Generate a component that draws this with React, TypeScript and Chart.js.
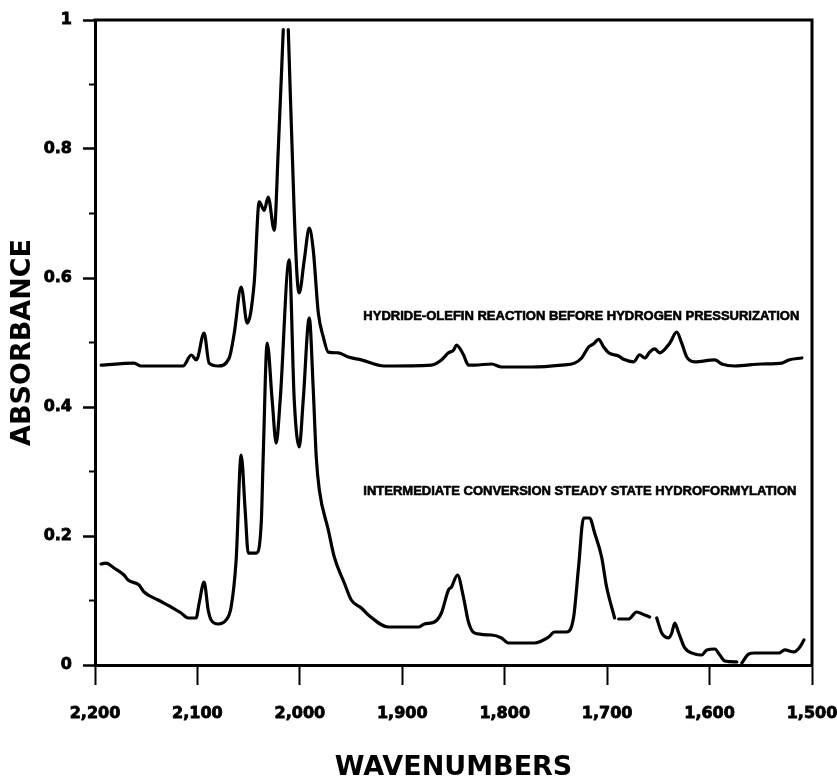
import React, { useEffect, useRef } from 'react';
import { Chart, registerables } from 'chart.js';

Chart.register(...registerables);

// ---- Data ----
// The main upper peak runs off scale: the plotter pen leaves a gap at its top (null).
const upperWavenumbers = [
  2194, 2161.9, 2155, 2114, 2106, 2101, 2093.5, 2088.6, 2079.8, 2069, 2064, 2057.3, 2051.4, 2044.6,
  2039.7, 2034.8, 2030.9, 2025, 2021.1, 2016.2, 2013.7, 2011.3, 2005.5, 2002.5, 2000.6, 1995.7, 1990.8,
  1986.9, 1982, 1977.1, 1972.2, 1962.5, 1952.7, 1940, 1917.5, 1871.6, 1861.8, 1854.9, 1850, 1847.1,
  1840.3, 1835.4, 1829.5, 1812.9, 1803.1, 1773.8, 1744.5, 1731.8, 1724.9, 1718.1, 1713.2, 1708.3,
  1703.4, 1698.5, 1688.8, 1683.9, 1674.1, 1668.2, 1663.3, 1658.5, 1653.6, 1648.7, 1638.9, 1632.1,
  1627.2, 1622.3, 1614.5, 1594.9, 1588.1, 1575.4, 1549, 1529.4, 1522.6, 1509.9,
];
const upperAbsorbance: (number | null)[] = [
  0.465, 0.468, 0.4636, 0.4636, 0.4806, 0.473, 0.5147, 0.468, 0.4636, 0.476, 0.515, 0.586, 0.53, 0.592,
  0.718, 0.705, 0.7256, 0.674, 0.798, 0.985, null, 0.985, 0.702, 0.597, 0.577, 0.628, 0.6775,
  0.643, 0.546, 0.5085, 0.485, 0.484, 0.4775, 0.473, 0.4636, 0.465, 0.473, 0.484, 0.488, 0.496,
  0.481, 0.465, 0.465, 0.4667, 0.462, 0.462, 0.465, 0.468, 0.476, 0.493, 0.498, 0.505,
  0.493, 0.484, 0.479, 0.474, 0.47, 0.481, 0.476, 0.485, 0.49, 0.484, 0.499, 0.516,
  0.499, 0.4775, 0.47, 0.473, 0.4667, 0.4636, 0.4667, 0.468, 0.473, 0.476,
];

const lowerWavenumbers = [
  2194.1, 2189.2, 2181.4, 2171.7, 2167.7, 2157, 2152.1, 2138.4, 2125.7, 2115.9, 2109.1, 2101.3,
  2098.3, 2093.5, 2089.5, 2086.6, 2079.8, 2072, 2067.1, 2062.2, 2057.3, 2053.4, 2050.4, 2042.6,
  2037.7, 2035.8, 2031.9, 2027, 2023.1, 2019.2, 2010.4, 2005.5, 2000.6, 1996.7, 1990.8, 1986.9,
  1984, 1981, 1972.2, 1966.4, 1956.6, 1949.8, 1940, 1933.1, 1913.6, 1884.3, 1878.4, 1868.6,
  1861.8, 1854.9, 1852, 1846.1, 1840.3, 1835.4, 1829.5, 1812.9, 1803.1, 1796.3, 1770.9, 1757.2,
  1751.3, 1739.6, 1732.7, 1727.9, 1723, 1717.1, 1712.2, 1705.4, 1700.5, 1692.7, 1690.8, 1688.8,
  1679, 1671.2, 1663.3, 1658.5, 1655, 1651.6, 1646.7, 1639.9, 1636.9, 1634, 1630.1, 1624.2,
  1614.5, 1607.6, 1602.7, 1594.9, 1590, 1585.1, 1573.4, 1571, 1568.5, 1561.7, 1555.8, 1539.2,
  1532.4, 1526.5, 1517.7, 1511.8, 1507.9,
];
const lowerAbsorbance: (number | null)[] = [
  0.1566, 0.158, 0.1504, 0.1395, 0.1318, 0.124, 0.1132, 0.1008, 0.0899, 0.0806, 0.0729, 0.0729,
  0.0961, 0.1287, 0.0853, 0.0698, 0.0636, 0.0698, 0.0899, 0.1628, 0.3256, 0.24, 0.1736, 0.1736,
  0.2202, 0.3225, 0.4992, 0.41, 0.344, 0.411, 0.628, 0.411, 0.338, 0.411, 0.538, 0.4264,
  0.3225, 0.2713, 0.2093, 0.1674, 0.1271, 0.1008, 0.0884, 0.0775, 0.0589, 0.0589, 0.0636, 0.0667,
  0.0806, 0.1163, 0.1209, 0.1395, 0.1054, 0.0667, 0.0496, 0.0465, 0.0419, 0.0341, 0.0341, 0.0434,
  0.0512, 0.0512, 0.0744, 0.1519, 0.2279, 0.2279, 0.2047, 0.1674, 0.1209, 0.0729, null, 0.0713,
  0.0713, 0.0822, 0.0775, 0.0744, null, 0.0729, 0.0496, 0.0419, 0.0496, 0.0651, 0.0496, 0.0264,
  0.0171, 0.0155, 0.0233, 0.0248, 0.0155, 0.0062, 0.0047, null, 0.0031, 0.0171, 0.0186, 0.0186,
  0.0186, 0.0233, 0.0202, 0.0279, 0.0388,
];

const xTickValues = [2200, 2100, 2000, 1900, 1800, 1700, 1600, 1500];
const xTickLabels = ['2,200', '2,100', '2,000', '1,900', '1,800', '1,700', '1,600', '1,500'];
const yTickValues = [0, 0.2, 0.4, 0.6, 0.8, 1];
const yTickLabels = ['0', '0.2', '0.4', '0.6', '0.8', '1'];
const yMinorTickValues = [0.1, 0.3, 0.5, 0.7, 0.9];

const annotationTexts = [
  'HYDRIDE-OLEFIN REACTION BEFORE HYDROGEN PRESSURIZATION',
  'INTERMEDIATE CONVERSION STEADY STATE HYDROFORMYLATION',
];
const annotationWavenumbers = [1938, 1938];
const annotationAbsorbances = [0.54, 0.269];

// ---- Layout constants ----
const W = 837;
const H = 779;
const PLOT_LEFT = 95;
const PLOT_TOP = 20;
const PLOT_RIGHT = 812;
const PLOT_BOTTOM = 665;

const tickFont = { family: "'DejaVu Sans', sans-serif", weight: 'bold' as const, size: 16 };
const titleFont = { family: "'DejaVu Sans', sans-serif", weight: 'bold' as const, size: 27, lineHeight: 1 };

export default function App() {
  const ref = useRef<HTMLCanvasElement>(null);

  useEffect(() => {
    const canvas = ref.current;
    if (!canvas) return;

    const upper = upperWavenumbers.map((w, i) => ({ x: w, y: upperAbsorbance[i] }));
    const lower = lowerWavenumbers.map((w, i) => ({ x: w, y: lowerAbsorbance[i] }));

    const bgPlugin = {
      id: 'bg',
      beforeDraw(chart: any) {
        const ctx = chart.ctx;
        ctx.save();
        ctx.fillStyle = '#fff';
        ctx.fillRect(0, 0, chart.width, chart.height);
        ctx.restore();
      },
    };

    const framePlugin = {
      id: 'frame',
      afterDraw(chart: any) {
        const ctx = chart.ctx;
        const { left, right, top, bottom } = chart.chartArea;
        const ys = chart.scales.y;
        ctx.save();
        ctx.strokeStyle = '#000';
        ctx.lineWidth = 3;
        ctx.lineCap = 'square';
        ctx.beginPath();
        ctx.moveTo(left, top);
        ctx.lineTo(right, top);
        ctx.lineTo(right, bottom);
        ctx.stroke();
        // minor y ticks
        ctx.lineWidth = 2;
        ctx.lineCap = 'butt';
        yMinorTickValues.forEach((v) => {
          const y = ys.getPixelForValue(v);
          ctx.beginPath();
          ctx.moveTo(left - 6, y);
          ctx.lineTo(left, y);
          ctx.stroke();
        });
        // annotations
        ctx.fillStyle = '#000';
        ctx.strokeStyle = '#000';
        ctx.lineWidth = 0.6;
        ctx.font = "bold 13px 'Liberation Sans', Arial, sans-serif";
        ctx.textAlign = 'left';
        ctx.textBaseline = 'middle';
        annotationTexts.forEach((t, i) => {
          const x = chart.scales.x.getPixelForValue(annotationWavenumbers[i]);
          const y = ys.getPixelForValue(annotationAbsorbances[i]);
          ctx.fillText(t, x, y);
          ctx.strokeText(t, x, y);
        });
        ctx.restore();
      },
    };

    const lineStyle = {
      borderColor: '#000',
      borderWidth: 3.2,
      pointRadius: 0,
      cubicInterpolationMode: 'monotone' as const,
      borderJoinStyle: 'round' as const,
      borderCapStyle: 'round' as const,
      spanGaps: false,
      fill: false,
    };

    const chart = new Chart(canvas, {
      type: 'line',
      data: {
        datasets: [
          {
            label: 'Hydride-olefin reaction before hydrogen pressurization',
            data: upper as any,
            ...lineStyle,
          },
          {
            label: 'Intermediate conversion steady state hydroformylation',
            data: lower as any,
            ...lineStyle,
          },
        ],
      },
      options: {
        animation: false,
        responsive: false,
        devicePixelRatio: 1,
        layout: { padding: { left: 0, top: PLOT_TOP, right: W - PLOT_RIGHT, bottom: 0 } },
        plugins: { legend: { display: false }, tooltip: { enabled: false } },
        scales: {
          x: {
            type: 'linear',
            reverse: true,
            min: 1500,
            max: 2200,
            afterBuildTicks: (s: any) => {
              s.ticks = xTickValues.map((v) => ({ value: v }));
            },
            afterFit: (s: any) => {
              s.height = H - PLOT_BOTTOM;
              s.paddingLeft = 0;
              s.paddingRight = 0;
            },
            ticks: {
              autoSkip: false,
              maxRotation: 0,
              minRotation: 0,
              padding: 19,
              color: '#000',
              font: tickFont,
              textStrokeColor: '#000',
              textStrokeWidth: 0.8,
              callback: (_v: any, i: number) => xTickLabels[i],
            },
            grid: {
              drawOnChartArea: false,
              drawTicks: true,
              tickLength: 20,
              tickWidth: 2,
              tickColor: '#000',
            },
            border: { display: true, color: '#000', width: 3 },
            title: {
              display: true,
              text: 'WAVENUMBERS',
              color: '#000',
              font: titleFont,
              padding: { top: 0, bottom: -2 },
            },
          },
          y: {
            type: 'linear',
            min: 0,
            max: 1,
            afterBuildTicks: (s: any) => {
              s.ticks = yTickValues.map((v) => ({ value: v }));
            },
            afterFit: (s: any) => {
              s.width = PLOT_LEFT;
              s.paddingTop = 0;
              s.paddingBottom = 0;
            },
            ticks: {
              autoSkip: false,
              padding: 11,
              color: '#000',
              font: tickFont,
              textStrokeColor: '#000',
              textStrokeWidth: 0.8,
              callback: (_v: any, i: number) => yTickLabels[i],
            },
            grid: {
              drawOnChartArea: false,
              drawTicks: true,
              tickLength: 12,
              tickWidth: 2.5,
              tickColor: '#000',
            },
            border: { display: true, color: '#000', width: 3 },
            title: {
              display: true,
              text: 'ABSORBANCE',
              color: '#000',
              font: titleFont,
              padding: { top: 9, bottom: 0 },
            },
          },
        },
      },
      plugins: [bgPlugin, framePlugin],
    });

    return () => chart.destroy();
  }, []);

  return (
    <div style={{ position: 'fixed', left: 0, top: 0, width: W, height: H, background: '#fff' }}>
      <canvas ref={ref} width={W} height={H} style={{ display: 'block', width: W, height: H }} />
    </div>
  );
}
